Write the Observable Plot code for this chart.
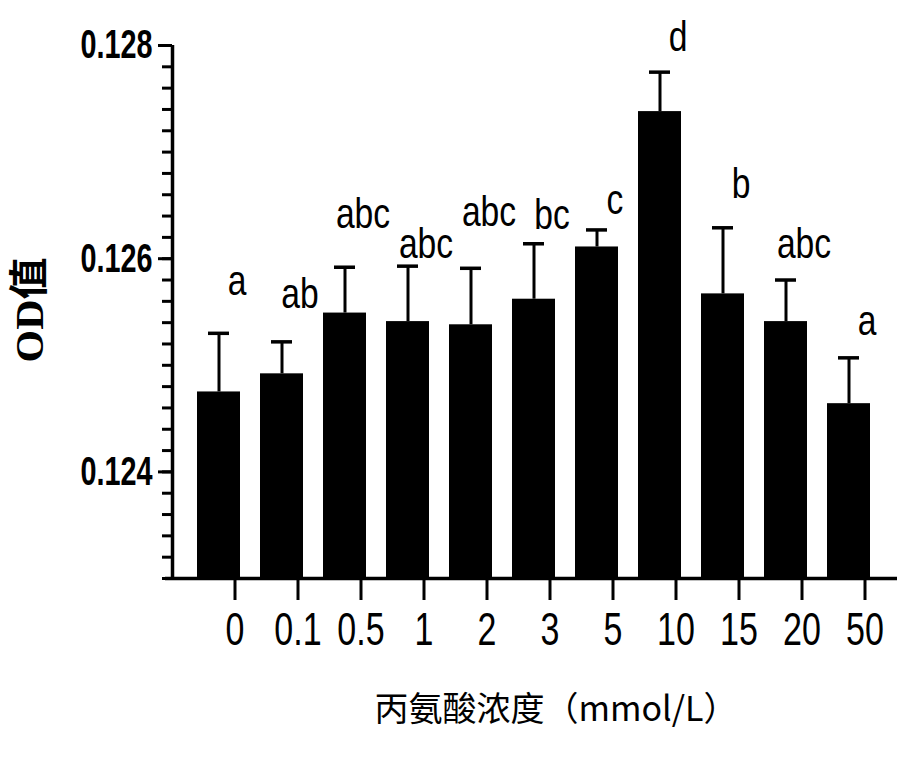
<!DOCTYPE html>
<html>
<head>
<meta charset="utf-8">
<script src="https://cdn.jsdelivr.net/npm/d3@7"></script>
<script src="https://cdn.jsdelivr.net/npm/@observablehq/plot@0.6"></script>
<style>
  html, body { margin: 0; padding: 0; background: #fff; }
  #chart { width: 913px; height: 757px; }
</style>
</head>
<body>
<div id="chart"></div>
<script>
// ---- data ----
const concentrations = ["0", "0.1", "0.5", "1", "2", "3", "5", "10", "15", "20", "50"];
const meanOD = [0.12475, 0.12492, 0.12549, 0.12541, 0.12538, 0.12562, 0.12611, 0.12738, 0.12567, 0.12541, 0.12464];
const sdOD   = [0.00055, 0.00030, 0.00043, 0.00052, 0.00053, 0.00052, 0.00016, 0.00037, 0.00062, 0.00039, 0.00043];
const letters = ["a", "ab", "abc", "abc", "abc", "bc", "c", "d", "b", "abc", "a"];
const letterOD = [0.12566, 0.12554, 0.12629, 0.12601, 0.12631, 0.12628, 0.12642, 0.12795, 0.12657, 0.12601, 0.12528];
const yDomain = [0.123, 0.128];
const yMajorTicks = [0.124, 0.126, 0.128];
const yTitle = "OD值";
const xTitle = "丙氨酸浓度（mmol/L）";

const rows = concentrations.map((c, i) => ({
  conc: c, mean: meanOD[i], upper: meanOD[i] + sdOD[i], letter: letters[i], ly: letterOD[i]
}));
const yMinor = d3.range(Math.round((yDomain[1] - yDomain[0]) / 0.0002) + 1).map(k => +(yDomain[0] + k * 0.0002).toFixed(4));

// ---- layout ----
const W = 913, H = 757;
const mL = 172, mR = 18, mT = 45, mB = 179;
const sans = "'Liberation Sans', Arial, Helvetica, sans-serif";

const chart = Plot.plot({
  width: W, height: H,
  marginLeft: mL, marginRight: mR, marginTop: mT, marginBottom: mB,
  style: { fontFamily: sans, background: "#fff", color: "#000", overflow: "visible" },
  x: { type: "band", domain: concentrations, paddingInner: 0.31, paddingOuter: 0.347, label: null },
  y: { domain: yDomain, label: null },
  marks: [
    Plot.barY(rows, { x: "conc", y1: () => yDomain[0], y2: "mean", fill: "#000" }),
    Plot.ruleX(rows, { x: "conc", y1: "mean", y2: "upper", stroke: "#000", strokeWidth: 3 }),
    Plot.tickY(rows, { x: "conc", y: "upper", stroke: "#000", strokeWidth: 3.5, insetLeft: 11, insetRight: 11 }),
    Plot.text(rows, { x: "conc", y: "ly", text: "letter", dx: 18, lineAnchor: "bottom", fontSize: 42, fill: "#000" }),
    // axis lines
    Plot.ruleX([yDomain], { x: null, y1: d => d[0], y2: d => d[1], dx: -(W - mL - mR) / 2, stroke: "#000", strokeWidth: 3.5 }),
    Plot.ruleY([yDomain[0]], { stroke: "#000", strokeWidth: 3.5, insetLeft: -7, insetRight: -2 }),
    // y axis ticks
    Plot.axisY(yMinor, { tickSize: 10, tickFormat: () => "", strokeWidth: 3, label: null }),
    Plot.axisY(yMajorTicks, { tickSize: 14, tickPadding: 6, tickFormat: d3.format(".3f"), fontSize: 40, fontWeight: "bold", strokeWidth: 3, label: null }),
    // x axis ticks
    Plot.axisX({ tickSize: 22, tickPadding: 12, dx: 16, fontSize: 46, strokeWidth: 3, label: null }),
    // titles
    Plot.text([yTitle], { frameAnchor: "left", textAnchor: "middle", lineAnchor: "middle", rotate: -90, dx: -142, dy: -2,
      fontSize: 40, fontWeight: "bold", fontFamily: "'Liberation Serif', 'Noto Sans CJK SC', serif", fill: "#000" }),
    Plot.text([xTitle], { frameAnchor: "bottom", textAnchor: "middle", lineAnchor: "middle", dx: 22, dy: 132, fontSize: 34,
      fontFamily: "'Noto Sans CJK SC', sans-serif", fill: "#000" })
  ]
});
document.getElementById("chart").append(chart);

// condense the narrow Arial-like text of the reference
const ratios = { "y-axis tick label": 0.72, "x-axis tick label": 0.74 };
chart.querySelectorAll("text").forEach(t => {
  if (t.textContent === xTitle) return;
  const len = t.getComputedTextLength();
  if (!len) return;
  const group = t.closest("g[aria-label]");
  const key = group ? group.getAttribute("aria-label") : "";
  const r = ratios[key] || 0.8;
  const target = t.textContent === yTitle ? 105 : len * r;
  t.setAttribute("textLength", target.toFixed(1));
  t.setAttribute("lengthAdjust", "spacingAndGlyphs");
});
</script>
</body>
</html>
